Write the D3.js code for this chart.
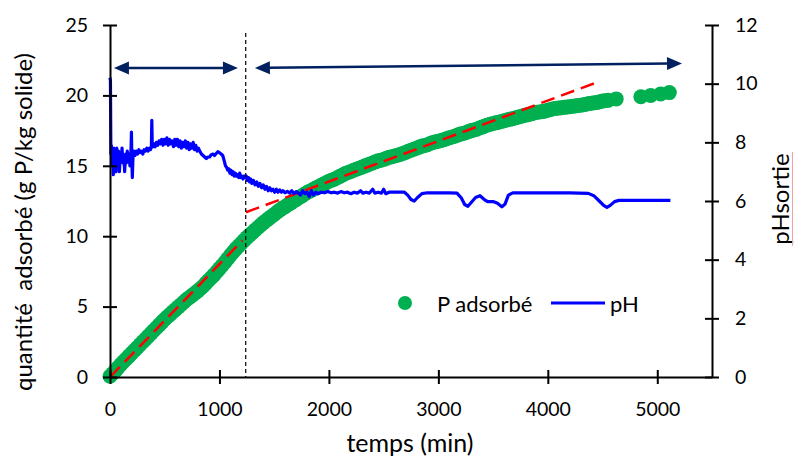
<!DOCTYPE html>
<html>
<head>
<meta charset="utf-8">
<script src="https://cdn.jsdelivr.net/npm/d3@7"></script>
<style>
  body { margin: 0; background: #fff; }
  svg { display: block; }
  text { font-family: Lato, "Open Sans", sans-serif; fill: #000; }
</style>
</head>
<body>
<svg id="chart" width="798" height="459"></svg>
<script>
// ---------------- DATA ----------------
const xTicks = [0, 1000, 2000, 3000, 4000, 5000];
const yLeftTicks = [0, 5, 10, 15, 20, 25];
const yRightTicks = [0, 2, 4, 6, 8, 10, 12];

// P adsorbé (g P/kg solide) vs temps (min)
const pTime = [0, 25, 50, 75, 100, 125, 150, 175, 200, 225, 250, 275, 300, 325, 350, 375, 400, 425, 450, 475,
  500, 525, 550, 575, 600, 625, 650, 675, 700, 725, 750, 775, 800, 825, 850, 875, 900, 925, 950, 975,
  1000, 1025, 1050, 1075, 1100, 1125, 1150, 1175, 1200, 1225, 1250, 1275, 1300, 1325, 1350, 1375, 1400, 1425, 1450, 1475,
  1500, 1525, 1550, 1575, 1600, 1625, 1650, 1675, 1700, 1725, 1750, 1775, 1800, 1825, 1850, 1875, 1900, 1925, 1950, 1975,
  2000, 2025, 2050, 2075, 2100, 2125, 2150, 2175, 2200, 2225, 2250, 2275, 2300, 2325, 2350, 2375, 2400, 2425, 2450, 2475,
  2500, 2525, 2550, 2575, 2600, 2625, 2650, 2675, 2700, 2725, 2750, 2775, 2800, 2825, 2850, 2875, 2900, 2925, 2950, 2975,
  3000, 3025, 3050, 3075, 3100, 3125, 3150, 3175, 3200, 3225, 3250, 3275, 3300, 3325, 3350, 3375, 3400, 3425, 3450, 3475,
  3500, 3525, 3550, 3575, 3600, 3625, 3650, 3675, 3700, 3725, 3750, 3775, 3800, 3825, 3850, 3875, 3900, 3925, 3950, 3975,
  4000, 4025, 4050, 4075, 4100, 4125, 4150, 4175, 4200, 4225, 4250, 4275, 4300, 4325, 4350, 4375, 4400, 4425, 4450, 4475,
  4500, 4525, 4550, 4625, 4850, 4940, 5030, 5110];
const pValue = [0.05, 0.25, 0.45, 0.68, 0.9, 1.1, 1.3, 1.5, 1.7, 1.9, 2.1, 2.3, 2.5, 2.7, 2.9, 3.1, 3.3, 3.5, 3.7, 3.9,
  4.1, 4.28, 4.45, 4.63, 4.8, 4.98, 5.15, 5.33, 5.5, 5.65, 5.8, 5.95, 6.1, 6.27, 6.45, 6.65, 6.85, 7.05, 7.25, 7.48,
  7.7, 7.92, 8.15, 8.4, 8.65, 8.88, 9.1, 9.3, 9.5, 9.7, 9.9, 10.08, 10.25, 10.43, 10.6, 10.78, 10.95, 11.1, 11.25, 11.4,
  11.55, 11.7, 11.85, 11.98, 12.1, 12.23, 12.35, 12.48, 12.6, 12.73, 12.85, 12.98, 13.1, 13.2, 13.3, 13.4, 13.5, 13.6, 13.7, 13.8,
  13.9, 13.98, 14.05, 14.15, 14.25, 14.35, 14.45, 14.52, 14.6, 14.68, 14.75, 14.83, 14.9, 14.98, 15.05, 15.13, 15.2, 15.28, 15.35, 15.4,
  15.45, 15.53, 15.6, 15.65, 15.7, 15.75, 15.8, 15.88, 15.95, 16.03, 16.1, 16.18, 16.25, 16.33, 16.4, 16.45, 16.5, 16.58, 16.65, 16.7,
  16.75, 16.8, 16.85, 16.93, 17.0, 17.05, 17.1, 17.18, 17.25, 17.3, 17.35, 17.43, 17.5, 17.55, 17.6, 17.68, 17.75, 17.83, 17.9, 17.95,
  18.0, 18.05, 18.1, 18.15, 18.2, 18.25, 18.3, 18.35, 18.4, 18.45, 18.5, 18.55, 18.6, 18.65, 18.7, 18.75, 18.8, 18.82, 18.85, 18.9,
  18.95, 19.0, 19.05, 19.08, 19.1, 19.13, 19.15, 19.18, 19.2, 19.23, 19.25, 19.28, 19.3, 19.34, 19.38, 19.42, 19.45, 19.48, 19.5, 19.55,
  19.6, 19.62, 19.65, 19.75, 19.9, 20.0, 20.1, 20.2];

// pH de sortie vs temps (min)
const phTime = [0, 4, 8, 12, 18, 24, 30, 36, 42, 48, 55, 62, 70, 78, 86, 94, 102, 110, 118, 126, 134, 142, 150, 158, 166, 174, 182, 190,
  196, 200, 204, 210, 218, 228, 240, 252, 264, 276, 288, 300, 312, 324, 336, 348, 360, 370, 378, 382, 386, 392, 400,
  412, 424, 436, 448, 460, 472, 484, 496, 508, 520, 532, 544, 556, 568, 580, 592, 604, 616, 628, 640, 652, 664, 676, 688,
  700, 712, 724, 736, 748, 760, 772, 784, 796, 808, 820, 835, 850, 865, 880, 895, 910, 925, 940, 955, 970, 985, 1000,
  1015, 1030, 1045, 1055, 1065, 1075, 1085, 1095, 1105, 1115, 1125, 1135, 1145, 1155, 1165, 1175, 1185, 1195, 1205, 1215,
  1225, 1235, 1245, 1255, 1265, 1275, 1285, 1295, 1310, 1325, 1340, 1355, 1370, 1385, 1400, 1415, 1430, 1445, 1460, 1475,
  1490, 1505, 1520, 1535, 1550, 1565, 1580, 1600, 1620, 1640, 1660, 1680, 1700, 1720, 1740, 1760, 1780, 1800, 1820, 1840,
  1860, 1880, 1900, 1930, 1960, 1990, 2020, 2050, 2080, 2110, 2140, 2170, 2200, 2230, 2260, 2290, 2310, 2340, 2370, 2400,
  2420, 2450, 2480, 2500, 2520, 2550, 2600, 2650, 2690, 2720, 2750, 2780, 2810, 2850, 2900, 3000, 3100, 3170, 3210, 3240,
  3270, 3300, 3340, 3380, 3420, 3450, 3500, 3540, 3580, 3610, 3640, 3680, 3800, 4000, 4200, 4370, 4420, 4470, 4510, 4540,
  4570, 4610, 4650, 4750, 4900, 5000, 5120];
const phValue = [10.2, 10.1, 7.6, 7.9, 7.2, 7.6, 6.9, 7.8, 7.4, 7.7, 7.0, 7.8, 7.3, 7.7, 7.0, 7.6, 7.4, 7.8, 7.3, 7.5, 7.0, 7.6, 7.3, 7.7, 7.4, 7.6, 7.2, 7.5,
  8.35, 7.3, 6.8, 7.5, 7.7, 7.55, 7.7, 7.6, 7.75, 7.65, 7.7, 7.6, 7.75, 7.7, 7.8, 7.7, 7.8, 7.75, 7.85, 8.75, 7.9, 7.85, 7.95,
  7.85, 8.0, 7.9, 8.05, 7.95, 8.1, 7.9, 8.1, 7.95, 8.15, 7.9, 8.1, 7.95, 8.05, 7.85, 8.1, 7.9, 8.1, 7.85, 8.05, 7.8, 8.0, 7.85, 8.05,
  7.8, 8.0, 7.75, 7.95, 7.8, 8.0, 7.75, 7.9, 7.7, 7.8, 7.7, 7.6, 7.55, 7.5, 7.45, 7.5, 7.5, 7.58, 7.6, 7.55, 7.62, 7.68, 7.65,
  7.6, 7.55, 7.35, 7.2, 7.15, 7.05, 7.1, 6.95, 7.05, 6.9, 7.0, 6.85, 6.95, 6.85, 6.9, 6.8, 6.95, 6.8, 6.85, 6.75,
  6.85, 6.8, 6.85, 6.7, 6.8, 6.65, 6.75, 6.6, 6.7, 6.55, 6.65, 6.5, 6.6, 6.45, 6.55, 6.4, 6.5, 6.35, 6.45, 6.35,
  6.4, 6.3, 6.4, 6.3, 6.38, 6.3, 6.35, 6.28, 6.33, 6.27, 6.35, 6.25, 6.32, 6.28, 6.2, 6.35, 6.25, 6.3, 6.15, 6.35,
  6.2, 6.3, 6.25, 6.3, 6.28, 6.32, 6.28, 6.3, 6.27, 6.32, 6.28, 6.3, 6.25, 6.3, 6.27, 6.35, 6.27, 6.3, 6.27, 6.4,
  6.27, 6.3, 6.27, 6.4, 6.25, 6.3, 6.3, 6.3, 6.3, 6.2, 6.05, 6.0, 6.12, 6.25, 6.28, 6.28, 6.28, 6.27, 6.1, 5.88,
  5.82, 5.95, 6.12, 6.18, 6.05, 5.98, 5.98, 5.92, 5.8, 5.9, 6.2, 6.28, 6.28, 6.28, 6.28, 6.26, 6.18, 6.0, 5.85, 5.78,
  5.85, 5.98, 6.02, 6.02, 6.02, 6.02, 6.02];

// Trend lines (red dashed) endpoints [time, value]
const trend1 = [[0, 0], [1210, 9.7]];
const trend2 = [[1242, 11.7], [4440, 20.9]];

// Phase separation (min)
const phaseTime = 1240;

// Phase arrows [time, value on left axis]
const phaseArrows = [
  [[36, 21.95], [1169, 21.95]],
  [[1324, 21.95], [5226, 22.27]]
];

const legendLabels = ["P adsorbé", "pH"];

// ---------------- CHART ----------------
const svg = d3.select("#chart");
const x = d3.scaleLinear().domain([0, 5500]).range([110, 712]);
const yL = d3.scaleLinear().domain([0, 25]).range([377, 25]);
const yR = d3.scaleLinear().domain([0, 12]).range([377, 25]);

const GREEN = "#00B050", BLUE = "#0000FF", RED = "#FF0000", NAVY = "#002060";

// green scatter
const pts = pTime.map((t, i) => [t, pValue[i]]);
svg.append("g").selectAll("circle").data(pts).join("circle")
  .attr("cx", d => x(d[0])).attr("cy", d => yL(d[1])).attr("r", 7.5)
  .attr("fill", GREEN);

// red trend lines
[trend1, trend2].forEach(tr => {
  svg.append("line")
    .attr("x1", x(tr[0][0])).attr("y1", yL(tr[0][1]))
    .attr("x2", x(tr[1][0])).attr("y2", yL(tr[1][1]))
    .attr("stroke", RED).attr("stroke-width", 2.5).attr("stroke-dasharray", "14,7");
});

// pH line
const phPts = phTime.map((t, i) => [t, phValue[i]]);
svg.append("path").datum(phPts)
  .attr("d", d3.line().x(d => x(d[0])).y(d => yR(d[1])))
  .attr("fill", "none").attr("stroke", BLUE).attr("stroke-width", 3.2).attr("stroke-linejoin", "round");

// axes
function styleAxis(g) {
  g.selectAll(".domain").attr("stroke", "#000").attr("stroke-width", 2);
  g.selectAll(".tick line").attr("stroke", "#000").attr("stroke-width", 2);
  g.selectAll(".tick text").style("font-size", "19.5px").attr("fill", "#000");
}
const fmt = d3.format("d");
const axL = svg.append("g").attr("transform", "translate(110,0)")
  .call(d3.axisLeft(yL).tickValues(yLeftTicks).tickFormat(fmt).tickSize(7).tickSizeOuter(0).tickPadding(15));
axL.selectAll(".tick line").attr("x1", 7);
styleAxis(axL);

const axB = svg.append("g").attr("transform", "translate(0,377)")
  .call(d3.axisBottom(x).tickValues(xTicks).tickFormat(fmt).tickSize(7).tickSizeOuter(0).tickPadding(18));
axB.selectAll(".tick line").attr("y1", -7);
styleAxis(axB);

const axR = svg.append("g").attr("transform", "translate(712,0)")
  .call(d3.axisRight(yR).tickValues(yRightTicks).tickFormat(fmt).tickSize(7).tickSizeOuter(0).tickPadding(16));
axR.selectAll(".tick line").attr("x1", -7);
styleAxis(axR);

// dashed separation line
svg.append("line")
  .attr("x1", x(phaseTime)).attr("x2", x(phaseTime))
  .attr("y1", 33).attr("y2", yL(0))
  .attr("stroke", "#000").attr("stroke-width", 1.2).attr("stroke-dasharray", "4,3");

// arrows
function drawArrow(p0, p1) {
  const x0 = x(p0[0]), y0 = yL(p0[1]), x1 = x(p1[0]), y1 = yL(p1[1]);
  const ang = Math.atan2(y1 - y0, x1 - x0);
  const L = 15, W = 6.5;
  const ux = Math.cos(ang), uy = Math.sin(ang);
  svg.append("line")
    .attr("x1", x0 + ux * (L - 2)).attr("y1", y0 + uy * (L - 2))
    .attr("x2", x1 - ux * (L - 2)).attr("y2", y1 - uy * (L - 2))
    .attr("stroke", NAVY).attr("stroke-width", 2.5);
  const head = (tx, ty, dx, dy) => {
    const bx = tx - dx * L, by = ty - dy * L;
    return [[tx, ty], [bx - dy * W, by + dx * W], [bx + dy * W, by - dx * W]];
  };
  [[x1, y1, ux, uy], [x0, y0, -ux, -uy]].forEach(h => {
    svg.append("polygon")
      .attr("points", head(...h).map(p => p.join(",")).join(" "))
      .attr("fill", NAVY);
  });
}
phaseArrows.forEach(a => drawArrow(a[0], a[1]));

// axis titles
svg.append("text")
  .attr("transform", "translate(32,222) rotate(-90)")
  .attr("text-anchor", "middle")
  .style("font-size", "24px").style("white-space", "pre")
  .text("quantité  adsorbé (g P/kg solide)");

svg.append("text")
  .attr("x", 410).attr("y", 452)
  .attr("text-anchor", "middle")
  .style("font-size", "25px")
  .text("temps (min)");

svg.append("text")
  .attr("transform", "translate(789,199) rotate(-90)")
  .attr("text-anchor", "middle")
  .style("font-size", "24px")
  .text("pHsortie");
svg.append("line").attr("x1", 792.5).attr("x2", 792.5).attr("y1", 152).attr("y2", 246)
  .attr("stroke", "#f5a3a3").attr("stroke-width", 1);

// legend
const lg = svg.append("g");
lg.append("circle").attr("cx", 405).attr("cy", 303).attr("r", 7).attr("fill", GREEN);
lg.append("text").attr("x", 437).attr("y", 312).style("font-size", "22px").text(legendLabels[0]);
lg.append("line").attr("x1", 551).attr("x2", 605).attr("y1", 303).attr("y2", 303)
  .attr("stroke", BLUE).attr("stroke-width", 3);
lg.append("text").attr("x", 610).attr("y", 312).style("font-size", "22px").text(legendLabels[1]);
</script>
</body>
</html>
